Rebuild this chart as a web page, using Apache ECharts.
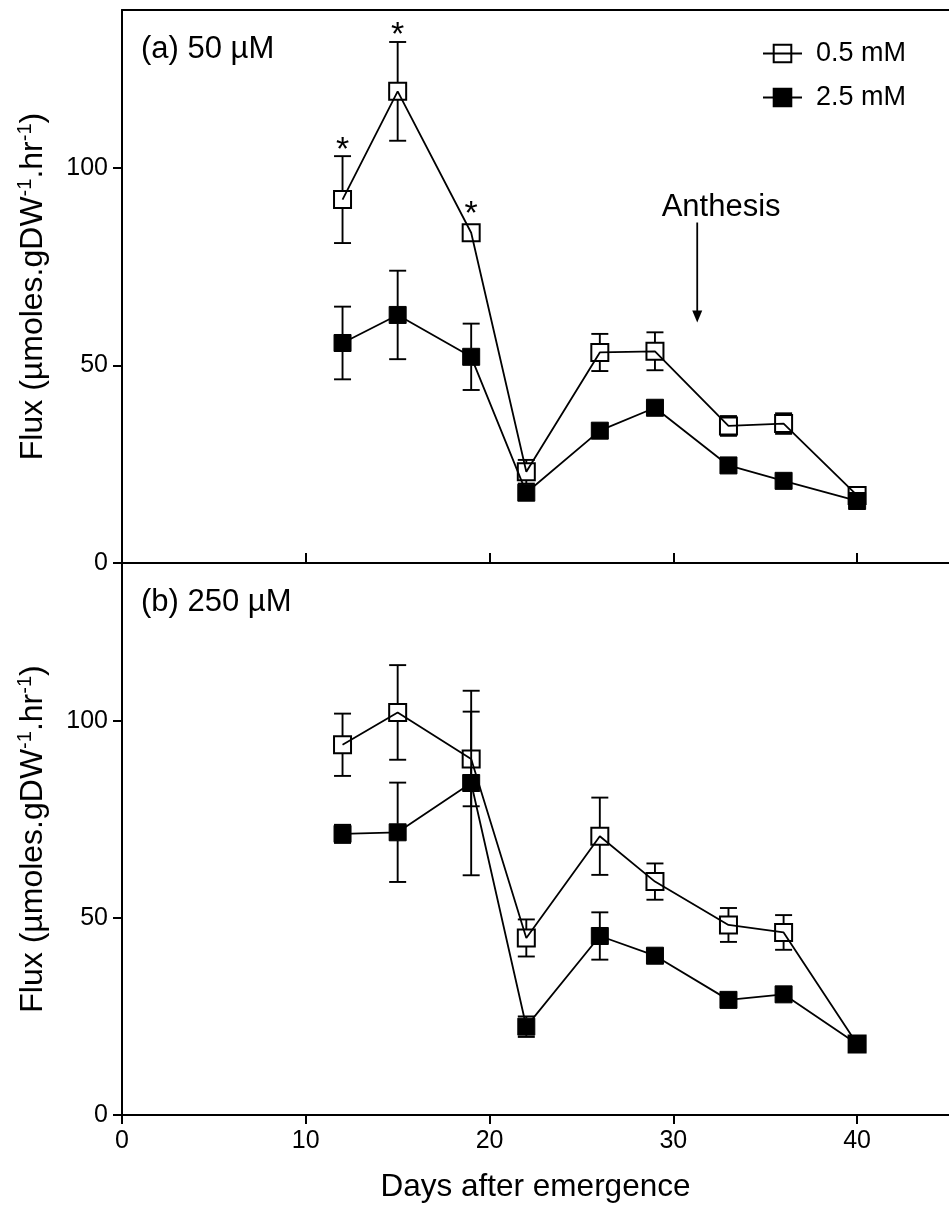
<!DOCTYPE html>
<html>
<head>
<meta charset="utf-8">
<script src="https://cdn.jsdelivr.net/npm/echarts@6/dist/echarts.min.js"></script>
<style>
html,body{margin:0;padding:0;background:#fff;}
#chart{width:949px;height:1205px;}
</style>
</head>
<body>
<div id="chart"></div>
<script>
// ---------- data ----------
const days = [12, 15, 19, 22, 26, 29, 33, 36, 40];

// (a) 50 µM
const a_low      = [92.0, 119.4, 83.6, 23.1, 53.3, 53.6, 34.7, 35.3, 17.1];
const a_low_err  = [11.0, 12.5, 1.0, 3.0, 4.7, 4.8, 2.5, 2.6, 1.0];
const a_high     = [55.7, 62.8, 52.2, 17.8, 33.5, 39.3, 24.7, 20.8, 15.7];
const a_high_err = [9.2, 11.2, 8.4, 1.0, 1.0, 1.0, 1.0, 1.0, 1.0];
const a_sigDays  = [12, 15, 19];

// (b) 250 µM
const b_low      = [93.9, 102.1, 90.3, 44.9, 70.7, 59.2, 48.2, 46.3, 18.0];
const b_low_err  = [7.9, 12.0, 12.0, 4.7, 9.8, 4.6, 4.3, 4.4, 0.0];
const b_high     = [71.3, 71.7, 84.2, 22.4, 45.4, 40.4, 29.2, 30.6, 18.0];
const b_high_err = [2.3, 12.6, 23.4, 2.6, 6.0, 0.0, 0.0, 0.0, 0.0];

// axes
const xTicks = [0, 10, 20, 30, 40];
const yTicks = [0, 50, 100];
const xMax = 45, yMax = 140;

// annotation (data units)
const anthesisDay = 31.3, anthesisFrom = 86.2, anthesisTo = 60.9;
const anthesisTextDay = 32.6, anthesisTextY = 90.0;

const seriesNames = ['0.5 mM', '2.5 mM'];
const panelLabels = ['(a) 50 µM', '(b) 250 µM'];
const xTitle = 'Days after emergence';
const yTitle = 'Flux (µmoles.gDW{sup|-1}.hr{sup|-1})';

// ---------- chart ----------
const FONT = "'Liberation Sans', Arial, sans-serif";
const MS = 17; // marker size
const HALF = MS / 2;

function pairs(vals) { return days.map((d, i) => [d, vals[i]]); }
function triples(vals, errs) { return days.map((d, i) => [d, vals[i], errs[i]]); }

function errRender(params, api) {
  const x = api.value(0), m = api.value(1), e = api.value(2);
  if (!e) return null;
  const c = api.coord([x, m]);
  const t = api.coord([x, m + e]);
  const b = api.coord([x, m - e]);
  const st = { stroke: '#000', lineWidth: 1.9 };
  const ch = [];
  if (c[1] - t[1] > HALF) {
    ch.push({ type: 'line', shape: { x1: c[0], y1: c[1] - HALF, x2: c[0], y2: t[1] }, style: st });
    ch.push({ type: 'line', shape: { x1: c[0] - HALF, y1: t[1], x2: c[0] + HALF, y2: t[1] }, style: st });
  }
  if (b[1] - c[1] > HALF) {
    ch.push({ type: 'line', shape: { x1: c[0], y1: c[1] + HALF, x2: c[0], y2: b[1] }, style: st });
    ch.push({ type: 'line', shape: { x1: c[0] - HALF, y1: b[1], x2: c[0] + HALF, y2: b[1] }, style: st });
  }
  return { type: 'group', children: ch };
}

function starRender(params, api) {
  const x = api.value(0), m = api.value(1), e = api.value(2);
  const c = api.coord([x, m]);
  const t = api.coord([x, m + e]);
  const capTop = t[1], markTop = c[1] - HALF;
  const y = capTop < markTop ? capTop - 14 : markTop - 18;
  return {
    type: 'text',
    style: { x: c[0], y: y + 8, text: '*', fontSize: 34, fontFamily: FONT, fill: '#000', align: 'center', verticalAlign: 'middle' }
  };
}

function anthesisRender(params, api) {
  const d = api.value(0), y1 = api.value(1), y2 = api.value(2), td = api.value(3), ty = api.value(4);
  const p1 = api.coord([d, y1]);
  const p2 = api.coord([d, y2]);
  const tp = api.coord([td, ty]);
  const hw = 5, hh = 12;
  return {
    type: 'group',
    children: [
      { type: 'line', shape: { x1: p1[0], y1: p1[1], x2: p2[0], y2: p2[1] - hh + 1 }, style: { stroke: '#000', lineWidth: 1.8 } },
      { type: 'polygon', shape: { points: [[p2[0] - hw, p2[1] - hh], [p2[0] + hw, p2[1] - hh], [p2[0], p2[1]]] }, style: { fill: '#000' } },
      { type: 'text', style: { x: tp[0], y: tp[1], text: 'Anthesis', fontSize: 31, fontFamily: FONT, fill: '#000', align: 'center', verticalAlign: 'middle' } }
    ]
  };
}

function openLine(name, vals, xi, yi) {
  return {
    name, type: 'line', xAxisIndex: xi, yAxisIndex: yi, data: pairs(vals),
    symbol: 'rect', symbolSize: MS,
    lineStyle: { color: '#000', width: 1.8 },
    itemStyle: { color: 'rgba(255,255,255,0)', borderColor: '#000', borderWidth: 2 },
    emphasis: { disabled: true }, z: 3
  };
}
function filledLine(name, vals, xi, yi) {
  return {
    name, type: 'line', xAxisIndex: xi, yAxisIndex: yi, data: pairs(vals),
    symbol: 'rect', symbolSize: MS,
    lineStyle: { color: '#000', width: 1.8 },
    itemStyle: { color: '#000', borderColor: '#000', borderWidth: 1 },
    emphasis: { disabled: true }, z: 4
  };
}
function errSeries(vals, errs, xi, yi) {
  return { type: 'custom', xAxisIndex: xi, yAxisIndex: yi, data: triples(vals, errs), renderItem: errRender, z: 2, silent: true };
}

const axisLineStyle = { color: '#000', width: 2 };
const tickStyle = { color: '#000', width: 2 };

function yAxis(gi) {
  return {
    gridIndex: gi, type: 'value', min: 0, max: yMax, interval: 10,
    axisLine: { show: true, lineStyle: axisLineStyle },
    axisTick: { show: true, length: 9, lineStyle: tickStyle, customValues: yTicks },
    axisLabel: { show: true, customValues: yTicks, fontSize: 25, fontFamily: FONT, color: '#000', margin: 14 },
    splitLine: { show: false },
    name: yTitle, nameLocation: 'middle', nameGap: 71, nameRotate: 90,
    nameTextStyle: { fontSize: 32, fontFamily: FONT, color: '#000', rich: { sup: { fontSize: 20, fontFamily: FONT, color: '#000', verticalAlign: 'top', lineHeight: 36 } } }
  };
}

const sigIdx = a_sigDays.map(d => days.indexOf(d));

const option = {
  animation: false,
  backgroundColor: '#fff',
  title: [
    { text: panelLabels[0], left: 136, top: 29, padding: 5, textStyle: { fontSize: 31, fontWeight: 'normal', fontFamily: FONT, color: '#000' } },
    { text: panelLabels[1], left: 136, top: 582, padding: 5, textStyle: { fontSize: 31, fontWeight: 'normal', fontFamily: FONT, color: '#000' } }
  ],
  legend: {
    data: seriesNames, orient: 'vertical', left: 757, top: 35,
    itemWidth: 39, itemHeight: 22, itemGap: 17,
    textStyle: { fontSize: 27, fontFamily: FONT, color: '#000', lineHeight: 27, padding: [0, 0, 0, 9] },
    selectedMode: false
  },
  grid: [
    { left: 122, top: 10, width: 827, height: 553 },
    { left: 122, top: 563, width: 827, height: 552 }
  ],
  xAxis: [
    { gridIndex: 0, type: 'value', min: 0, max: xMax, interval: 10, position: 'bottom',
      axisLine: { show: true, lineStyle: axisLineStyle },
      axisTick: { show: true, inside: true, length: 10, lineStyle: tickStyle, customValues: xTicks },
      axisLabel: { show: false }, splitLine: { show: false } },
    { gridIndex: 0, type: 'value', min: 0, max: xMax, interval: 10, position: 'top',
      axisLine: { show: true, onZero: false, lineStyle: axisLineStyle },
      axisTick: { show: false }, axisLabel: { show: false }, splitLine: { show: false } },
    { gridIndex: 1, type: 'value', min: 0, max: xMax, interval: 10, position: 'bottom',
      axisLine: { show: true, lineStyle: axisLineStyle },
      axisTick: { show: true, length: 9, lineStyle: tickStyle, customValues: xTicks },
      axisLabel: { show: true, customValues: xTicks, fontSize: 25, fontFamily: FONT, color: '#000', margin: 14 },
      splitLine: { show: false },
      name: xTitle, nameLocation: 'middle', nameGap: 56,
      nameTextStyle: { fontSize: 31.5, fontFamily: FONT, color: '#000' } }
  ],
  yAxis: [yAxis(0), yAxis(1)],
  series: [
    errSeries(a_low, a_low_err, 0, 0),
    errSeries(a_high, a_high_err, 0, 0),
    openLine(seriesNames[0], a_low, 0, 0),
    filledLine(seriesNames[1], a_high, 0, 0),
    { type: 'custom', xAxisIndex: 0, yAxisIndex: 0, silent: true, z: 5,
      data: sigIdx.map(i => [days[i], a_low[i], a_low_err[i]]), renderItem: starRender },
    { type: 'custom', xAxisIndex: 0, yAxisIndex: 0, silent: true, z: 5,
      data: [[anthesisDay, anthesisFrom, anthesisTo, anthesisTextDay, anthesisTextY]], renderItem: anthesisRender },

    errSeries(b_low, b_low_err, 2, 1),
    errSeries(b_high, b_high_err, 2, 1),
    openLine(seriesNames[0], b_low, 2, 1),
    filledLine(seriesNames[1], b_high, 2, 1)
  ]
};

const chart = echarts.init(document.getElementById('chart'), null, { renderer: 'canvas' });
chart.setOption(option);
</script>
</body>
</html>
